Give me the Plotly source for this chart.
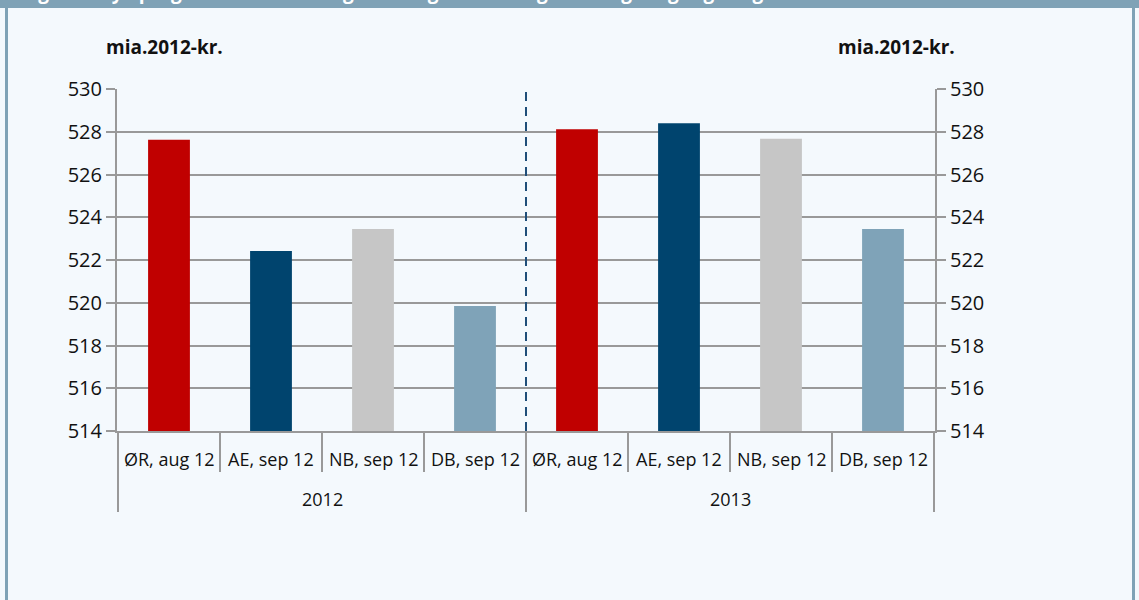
import plotly.graph_objects as go

years = ["2012", "2013"]
sources = ["ØR, aug 12", "AE, sep 12", "NB, sep 12", "DB, sep 12"]
values_2012 = [527.62, 522.42, 523.45, 519.85]
values_2013 = [528.12, 528.40, 527.67, 523.45]
source_colors = ["#c00000", "#00446e", "#c6c6c6", "#7fa3b8"]
y_ticks = [514, 516, 518, 520, 522, 524, 526, 528, 530]
y_unit = "mia.2012-kr."
title = "Figur 1. Nye prognoser for offentligt forbrug sammenlignet budget og regeringsudkast"

FONT = "Open Sans, Noto Sans, sans-serif"
GRID = "#999999"
BG = "#f4f9fd"
FRAME = "#7fa2b6"
TXT = "#111111"

cats = [f"{y} {s}" for y in years for s in sources]
vals = values_2012 + values_2013
colors = source_colors * len(years)

fig = go.Figure()
fig.add_trace(
    go.Bar(
        x=cats,
        y=vals,
        marker=dict(color=colors, line=dict(width=0)),
        showlegend=False,
        hoverinfo="skip",
    )
)
# invisible trace so the right axis exists
fig.add_trace(go.Scatter(x=[cats[0]], y=[vals[0]], yaxis="y2", mode="markers",
                         marker=dict(opacity=0), showlegend=False, hoverinfo="skip"))

yax = dict(
    range=[y_ticks[0], y_ticks[-1]],
    tickvals=y_ticks,
    showgrid=True,
    gridcolor=GRID,
    gridwidth=2,
    showline=True,
    linecolor=GRID,
    linewidth=2,
    ticks="outside",
    ticklen=9,
    tickwidth=2,
    tickcolor=GRID,
    tickfont=dict(family=FONT, size=20, color=TXT),
    zeroline=False,
    fixedrange=True,
)
fig.update_layout(
    width=1139,
    height=600,
    paper_bgcolor=BG,
    plot_bgcolor=BG,
    margin=dict(l=117, r=204, t=89, b=169),
    bargap=0.59,
    xaxis=dict(
        type="category",
        showticklabels=False,
        showline=True,
        linecolor=GRID,
        linewidth=2,
        showgrid=False,
        ticks="",
        fixedrange=True,
    ),
    yaxis=yax,
    yaxis2=dict(yax, overlaying="y", side="right", showgrid=False),
)

PW, PH = 818, 342  # plot area in px, used to place decorations in paper units


def px_x(x):
    return (x - 117) / PW


def px_y(y):
    return (431 - y) / PH


# frame: header band and side borders
fig.add_shape(type="rect", xref="paper", yref="paper", x0=px_x(0), x1=px_x(1139),
              y0=px_y(8), y1=px_y(-10), fillcolor=FRAME, line=dict(width=0), layer="below")
fig.add_shape(type="rect", xref="paper", yref="paper", x0=px_x(5), x1=px_x(8),
              y0=px_y(600), y1=px_y(0), fillcolor=FRAME, line=dict(width=0), layer="below")
fig.add_shape(type="line", xref="paper", yref="paper", x0=px_x(1133.5), x1=px_x(1133.5),
              y0=px_y(600), y1=px_y(0), line=dict(color=FRAME, width=3), layer="above")
fig.add_annotation(text=f"<b>{title}</b>", xref="paper", yref="paper", x=px_x(20), y=px_y(7),
                   xanchor="left", yanchor="bottom", showarrow=False,
                   font=dict(family=FONT, size=19, color="white"))

# dashed divider between the years
n = len(sources)
fig.add_shape(type="line", xref="x", yref="paper", x0=n - 0.5, x1=n - 0.5, y0=0, y1=1,
              line=dict(color="#1f4e79", width=2, dash="9px,6px"))

# category separators below the axis
for k in range(len(cats) + 1):
    outer = k % n == 0
    fig.add_shape(type="line", xref="x", yref="paper", x0=k - 0.5, x1=k - 0.5,
                  y0=0, y1=px_y(512 if outer else 472),
                  line=dict(color=GRID, width=2))

for i, c in enumerate(cats):
    fig.add_annotation(text=sources[i % n], x=c, xref="x", yref="paper", y=px_y(459),
                       yanchor="middle", showarrow=False,
                       font=dict(family=FONT, size=18, color=TXT))
for j, yr in enumerate(years):
    fig.add_annotation(text=yr, x=j * n + (n - 1) / 2, xref="x", yref="paper", y=px_y(499),
                       yanchor="middle", showarrow=False,
                       font=dict(family=FONT, size=18, color=TXT))

for xpos in (104, 957):
    fig.add_annotation(text=f"<b>{y_unit}</b>", xref="paper", yref="paper",
                       x=px_x(xpos), y=px_y(47), yanchor="middle", showarrow=False,
                       font=dict(family=FONT, size=19, color=TXT))

fig.write_html("out.html", config={"displayModeBar": False},
               post_script="document.body.style.margin='0';document.body.style.overflow='hidden';")
